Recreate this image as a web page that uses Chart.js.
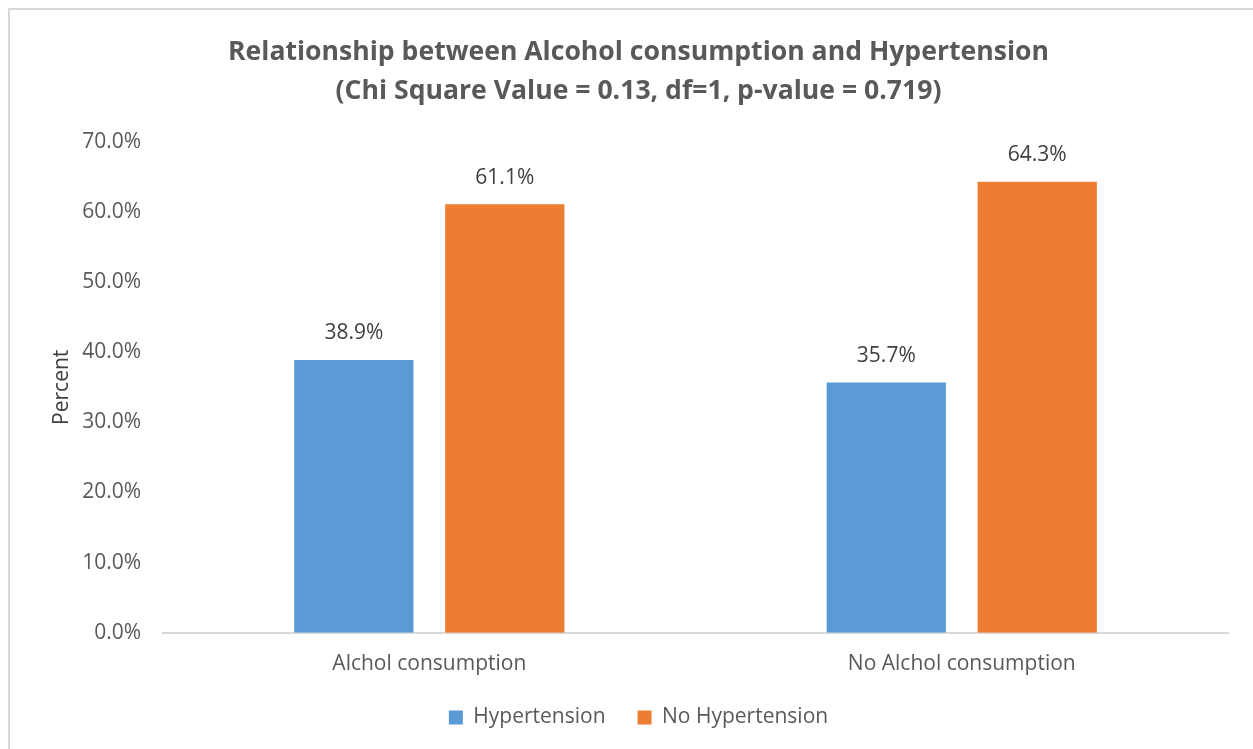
<!DOCTYPE html>
<html>
<head>
<meta charset="utf-8">
<script src="https://cdn.jsdelivr.net/npm/chart.js@4/dist/chart.umd.min.js"></script>
<style>
  html, body { margin: 0; padding: 0; background: #fff; }
  #frame {
    position: absolute; left: 8px; top: 8px; width: 1245px; height: 741px;
    border-top: 2px solid #d9d9d9; border-left: 2px solid #d9d9d9;
    box-sizing: border-box;
  }
  #wrap { position: absolute; left: 0; top: 0; width: 1253px; height: 749px; }
</style>
</head>
<body>
<div id="frame"></div>
<div id="wrap"><canvas id="chart"></canvas></div>
<script>
  var categories = ["Alchol consumption", "No Alchol consumption"];
  var hypertension = [38.9, 35.7];
  var noHypertension = [61.1, 64.3];
  var yTicks = [0, 10, 20, 30, 40, 50, 60, 70];

  var textGray = "#595959";
  var fontName = "'Open Sans', sans-serif";

  // labels over each bar
  var barLabels = {
    id: "barLabels",
    afterDatasetsDraw: function (chart) {
      var ctx = chart.ctx;
      ctx.save();
      ctx.font = "21px " + fontName;
      ctx.fillStyle = "#404040";
      ctx.textAlign = "center";
      ctx.textBaseline = "bottom";
      chart.data.datasets.forEach(function (ds, i) {
        chart.getDatasetMeta(i).data.forEach(function (bar, j) {
          ctx.fillText(ds.data[j].toFixed(1) + "%", bar.x, bar.y - 16);
        });
      });
      ctx.restore();
    }
  };

  // wider gap between legend items without a taller legend box
  var legendFit = {
    id: "legendFit",
    beforeInit: function (chart) {
      var fit = chart.legend.fit;
      chart.legend.fit = function () {
        fit.bind(chart.legend)();
        this.height -= 22;
      };
    },
    afterLayout: function (chart) {
      chart.legend.top -= 21;
    }
  };

  var chart = new Chart(document.getElementById("chart"), {
    type: "bar",
    data: {
      labels: categories,
      datasets: [{
        label: "Hypertension",
        data: hypertension,
        backgroundColor: "#5b9bd5",
        barPercentage: 0.79,
        categoryPercentage: 0.567
      }, {
        label: "No Hypertension",
        data: noHypertension,
        backgroundColor: "#ed7d31",
        barPercentage: 0.79,
        categoryPercentage: 0.567
      }]
    },
    options: {
      responsive: true,
      maintainAspectRatio: false,
      animation: false,
      layout: { padding: { left: 49, right: 25, top: 20, bottom: 12 } },
      plugins: {
        title: {
          display: true,
          text: ["Relationship between Alcohol consumption and Hypertension",
                 "(Chi Square Value = 0.13, df=1, p-value = 0.719)"],
          color: textGray,
          font: { family: fontName, size: 26.6, weight: "bold", lineHeight: 1.5 },
          padding: { top: 12, bottom: 30 }
        },
        legend: {
          position: "bottom",
          labels: {
            color: textGray,
            font: { family: fontName, size: 21 },
            boxWidth: 14,
            boxHeight: 14,
            padding: 32
          }
        },
        tooltip: { enabled: false }
      },
      scales: {
        x: {
          grid: { display: false, drawTicks: false },
          border: { color: "#d9d9d9", width: 2 },
          ticks: {
            color: textGray,
            font: { family: fontName, size: 21 },
            padding: 19
          }
        },
        y: {
          min: 0,
          max: 70,
          afterBuildTicks: function (axis) {
            axis.ticks = yTicks.map(function (v) { return { value: v }; });
          },
          grid: { display: false, drawTicks: false },
          border: { display: false },
          title: {
            display: true,
            text: "Percent",
            color: "#404040",
            font: { family: fontName, size: 21 },
            padding: { top: 0, bottom: -14 }
          },
          ticks: {
            color: textGray,
            font: { family: fontName, size: 21 },
            padding: 22,
            callback: function (v) { return v.toFixed(1) + "%"; }
          }
        }
      }
    },
    plugins: [barLabels, legendFit]
  });
</script>
</body>
</html>
